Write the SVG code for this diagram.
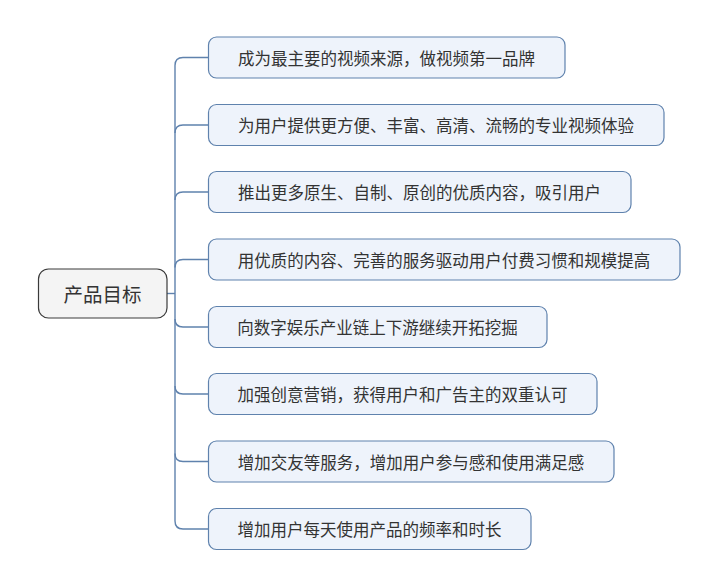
<svg xmlns="http://www.w3.org/2000/svg" width="718" height="588" viewBox="0 0 718 588">
<style>
.bg{fill:#ffffff}
.child{fill:#eef3fb;stroke:#5f82ad;stroke-width:1.2}
.root{fill:#f4f4f4;stroke:#3a3a3a;stroke-width:1.2}
.t{font-family:"Noto Sans CJK SC","Noto Sans",sans-serif;font-size:16.5px;fill:#333333;text-anchor:middle;dominant-baseline:central}
.rt{font-family:"Noto Sans CJK SC","Noto Sans",sans-serif;font-size:19.5px;fill:#333333;text-anchor:middle;dominant-baseline:central}
.c{fill:none;stroke:#5f82ad;stroke-width:1.4}
</style>
<rect class="bg" x="0" y="0" width="718" height="588"/>
<g id="connectors">
<path class="c" d="M167,293.5 H175"/>
<path class="c" d="M208,57.5 H183 Q175,57.5 175,65.5 V521 Q175,529 183,529 H208"/>
<path class="c" d="M175,133 Q175,125 183,125 H208"/>
<path class="c" d="M175,200 Q175,192 183,192 H208"/>
<path class="c" d="M175,267.5 Q175,259.5 183,259.5 H208"/>
<path class="c" d="M175,319 Q175,327 183,327 H208"/>
<path class="c" d="M175,386 Q175,394 183,394 H208"/>
<path class="c" d="M175,453.5 Q175,461.5 183,461.5 H208"/>
</g>
<g id="root">
<rect class="root" x="38.5" y="269" width="128.5" height="49" rx="10"/>
<text class="rt" x="102.5" y="293.5">产品目标</text>
</g>
<g id="n1">
<rect class="child" x="208.5" y="37" width="356.5" height="41" rx="8"/>
<text class="t" x="386.5" y="57.5">成为最主要的视频来源，做视频第一品牌</text>
</g>
<g id="n2">
<rect class="child" x="208.5" y="104.5" width="455.5" height="41" rx="8"/>
<text class="t" x="436" y="125">为用户提供更方便、丰富、高清、流畅的专业视频体验</text>
</g>
<g id="n3">
<rect class="child" x="208.5" y="171.5" width="422.5" height="41" rx="8"/>
<text class="t" x="419.5" y="192">推出更多原生、自制、原创的优质内容，吸引用户</text>
</g>
<g id="n4">
<rect class="child" x="208.5" y="239" width="471.5" height="41" rx="8"/>
<text class="t" x="444" y="259.5">用优质的内容、完善的服务驱动用户付费习惯和规模提高</text>
</g>
<g id="n5">
<rect class="child" x="208.5" y="306.5" width="338.5" height="41" rx="8"/>
<text class="t" x="377.5" y="327">向数字娱乐产业链上下游继续开拓挖掘</text>
</g>
<g id="n6">
<rect class="child" x="208.5" y="373.5" width="388.5" height="41" rx="8"/>
<text class="t" x="402.5" y="394">加强创意营销，获得用户和广告主的双重认可</text>
</g>
<g id="n7">
<rect class="child" x="208.5" y="441" width="405.5" height="41" rx="8"/>
<text class="t" x="411" y="461.5">增加交友等服务，增加用户参与感和使用满足感</text>
</g>
<g id="n8">
<rect class="child" x="208.5" y="508.5" width="322.5" height="41" rx="8"/>
<text class="t" x="369.5" y="529">增加用户每天使用产品的频率和时长</text>
</g>
</svg>
